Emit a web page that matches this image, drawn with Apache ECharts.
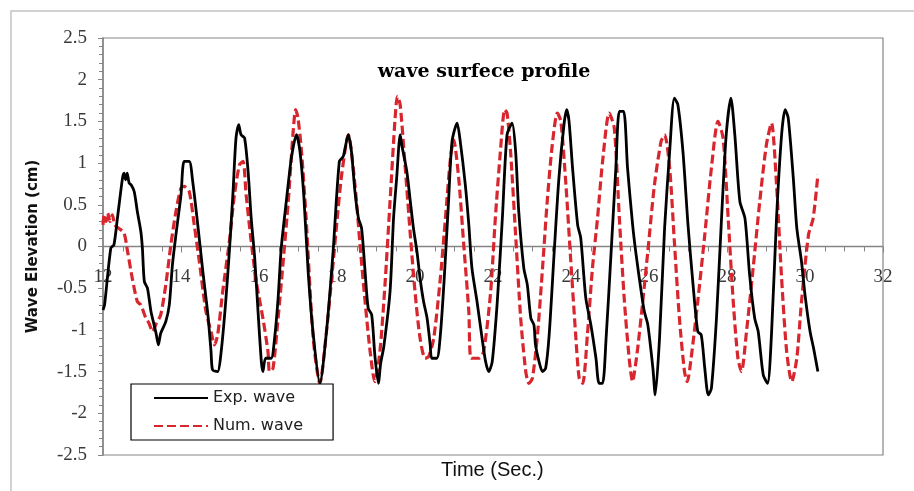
<!DOCTYPE html>
<html>
<head>
<meta charset="utf-8">
<script src="https://cdn.jsdelivr.net/npm/echarts@6/dist/echarts.min.js"></script>
<style>html,body{margin:0;padding:0;background:#fff;}#c{width:914px;height:491px;}</style>
</head>
<body>
<div id="c"></div>
<script>
// Experimental wave (time in s, elevation in cm)
var expTime = [12.0,12.04,12.2,12.28,12.37,12.5,12.54,12.58,12.62,12.67,12.72,12.8,12.88,12.97,13.01,13.06,13.14,13.23,13.31,13.36,13.42,13.48,13.61,13.7,13.78,13.87,14.0,14.08,14.21,14.3,14.43,14.56,14.69,14.77,14.81,14.94,15.03,15.14,15.24,15.33,15.41,15.48,15.54,15.63,15.72,15.8,15.89,15.97,16.06,16.1,16.17,16.31,16.4,16.49,16.57,16.7,16.83,16.96,17.05,17.15,17.26,17.39,17.56,17.73,17.9,18.06,18.16,18.29,18.37,18.46,18.55,18.63,18.72,18.8,18.89,18.97,19.06,19.12,19.2,19.36,19.45,19.53,19.62,19.66,19.79,19.88,19.96,20.05,20.13,20.22,20.31,20.39,20.43,20.56,20.65,20.75,20.86,20.95,21.08,21.16,21.29,21.38,21.46,21.59,21.72,21.81,21.89,21.98,22.11,22.24,22.36,22.49,22.58,22.66,22.79,22.88,22.97,23.05,23.09,23.18,23.27,23.35,23.44,23.57,23.69,23.82,23.89,23.95,24.04,24.17,24.25,24.38,24.51,24.64,24.72,24.81,24.9,25.02,25.15,25.24,25.35,25.45,25.58,25.67,25.8,25.88,25.97,26.1,26.16,26.27,26.4,26.53,26.65,26.74,26.87,27.0,27.13,27.25,27.34,27.43,27.52,27.6,27.73,27.86,27.98,28.1,28.2,28.33,28.46,28.58,28.71,28.8,28.93,29.04,29.14,29.27,29.4,29.49,29.57,29.7,29.79,29.91,30.0,30.13,30.22,30.33];
var expValue = [-0.76,-0.7,-0.02,0.02,0.34,0.82,0.88,0.8,0.88,0.76,0.74,0.66,0.42,0.18,-0.02,-0.42,-0.5,-0.78,-0.94,-1.04,-1.18,-1.04,-0.9,-0.7,-0.22,0.14,0.62,1.02,1.02,0.78,0.26,-0.3,-0.82,-1.26,-1.48,-1.5,-1.26,-0.7,-0.06,0.62,1.3,1.46,1.34,1.3,0.9,0.34,-0.14,-0.74,-1.38,-1.5,-1.34,-1.34,-1.1,-0.62,-0.02,0.54,1.06,1.34,1.14,0.6,-0.3,-1.05,-1.64,-1.02,-0.06,1.02,1.08,1.34,1.14,0.66,0.34,0.22,-0.3,-0.74,-0.82,-1.3,-1.64,-1.4,-1.2,-0.54,0.34,0.82,1.34,1.22,0.9,0.54,0.22,-0.06,-0.38,-0.66,-0.86,-1.18,-1.34,-1.34,-1.06,-0.38,0.54,1.26,1.48,1.26,0.74,0.26,-0.26,-0.66,-1.1,-1.38,-1.5,-1.38,-0.66,0.34,1.34,1.48,1.14,0.42,-0.26,-0.46,-0.86,-0.94,-1.18,-1.38,-1.5,-1.46,-1.06,-0.06,0.82,1.46,1.64,1.5,0.94,0.26,0.1,-0.62,-0.94,-1.34,-1.64,-1.64,-1.1,-0.14,0.94,1.62,1.62,0.94,0.26,-0.1,-0.54,-0.78,-0.94,-1.46,-1.78,-1.1,0.22,1.14,1.78,1.7,1.14,0.26,-0.46,-1.02,-1.06,-1.46,-1.78,-1.7,-0.86,0.34,1.34,1.78,1.34,0.54,0.34,-0.34,-0.86,-1.02,-1.54,-1.64,-1.06,0.34,1.34,1.64,1.54,0.82,0.22,-0.18,-0.58,-1.02,-1.22,-1.5];

// Numerical wave
var numTime = [12.0,12.03,12.08,12.12,12.18,12.24,12.3,12.4,12.54,12.63,12.75,12.88,12.97,13.1,13.18,13.27,13.37,13.48,13.61,13.74,13.87,14.0,14.08,14.21,14.34,14.47,14.64,14.77,14.86,14.94,15.07,15.24,15.37,15.5,15.59,15.67,15.8,15.93,16.1,16.23,16.27,16.36,16.49,16.62,16.75,16.87,16.94,17.0,17.09,17.2,17.39,17.56,17.73,17.9,17.99,18.12,18.29,18.46,18.59,18.72,18.85,18.97,19.1,19.23,19.36,19.49,19.55,19.62,19.75,19.88,20.0,20.13,20.26,20.35,20.48,20.65,20.78,20.91,20.99,21.12,21.25,21.38,21.44,21.63,21.76,21.94,22.06,22.19,22.3,22.36,22.45,22.58,22.71,22.84,22.92,23.01,23.14,23.27,23.39,23.52,23.65,23.74,23.87,23.99,24.12,24.21,24.3,24.42,24.55,24.68,24.81,24.98,25.11,25.24,25.37,25.5,25.58,25.63,25.71,25.84,25.97,26.14,26.31,26.4,26.53,26.65,26.78,26.91,26.98,27.08,27.25,27.43,27.6,27.77,27.9,28.03,28.16,28.28,28.37,28.5,28.67,28.84,29.01,29.14,29.27,29.4,29.53,29.66,29.79,29.91,30.09,30.21,30.33];
var numValue = [0.26,0.38,0.3,0.4,0.3,0.38,0.26,0.22,0.16,-0.06,-0.38,-0.66,-0.7,-0.86,-0.92,-1.02,-0.92,-0.82,-0.46,0.02,0.42,0.7,0.72,0.66,0.26,-0.18,-0.78,-1.02,-1.18,-1.06,-0.54,0.06,0.62,0.98,1.02,0.62,0.06,-0.42,-0.86,-1.26,-1.5,-1.46,-0.86,-0.18,0.54,1.34,1.64,1.54,1.14,0.4,-1.1,-1.64,-1.02,-0.2,0.26,0.86,1.34,0.74,0.02,-0.66,-1.26,-1.62,-1.26,-0.46,0.54,1.54,1.8,1.7,0.94,0.14,-0.54,-1.1,-1.34,-1.32,-1.1,-0.38,0.34,1.06,1.28,0.82,0.02,-0.78,-1.34,-1.34,-1.26,-0.54,0.34,1.14,1.64,1.6,1.14,0.14,-0.86,-1.5,-1.64,-1.58,-1.06,-0.26,0.54,1.22,1.6,1.5,0.74,-0.14,-1.06,-1.58,-1.64,-1.06,-0.26,0.34,1.02,1.6,1.42,0.34,-0.66,-1.38,-1.62,-1.5,-1.22,-0.66,-0.06,0.74,1.26,1.34,0.94,0.06,-0.86,-1.5,-1.62,-1.34,-0.66,0.14,0.94,1.5,1.3,0.34,-0.66,-1.34,-1.5,-1.02,-0.26,0.54,1.22,1.48,0.74,-0.38,-1.26,-1.62,-1.34,-0.66,0.14,0.34,0.86];

var seriesNames = ['Exp. wave', 'Num. wave'];
var chartTitle = 'wave surfece profile';
var xAxisTitle = 'Time (Sec.)';
var yAxisTitle = 'Wave Elevation (cm)';
var xMin = 12, xMax = 32, xStep = 2, xMinorStep = 0.5;

function pairs(t, v) { return t.map(function (x, i) { return [x, v[i]]; }); }

var GRID_TOP = 38, GRID_BOTTOM = 36, H = 491;
var plotH = H - GRID_TOP - GRID_BOTTOM;
// move the x axis labels from the bottom edge up to y = 0 (middle of -2.5..2.5)
var zeroOffset = -plotH / 2;
var AXIS_GRAY = '#858585';

var chart = echarts.init(document.getElementById('c'), null, {renderer: 'canvas'});
chart.setOption({
  animation: false,
  backgroundColor: '#fff',
  title: {
    text: chartTitle,
    left: 479, top: 58, textAlign: 'center',
    textStyle: {fontFamily: 'DejaVu Serif', fontWeight: 'bold', fontSize: 19, color: '#000'}
  },
  grid: {left: 103, right: 31, top: GRID_TOP, bottom: GRID_BOTTOM, show: true, borderColor: AXIS_GRAY, borderWidth: 1.2, backgroundColor: 'transparent'},
  legend: {
    orient: 'vertical', left: 131, top: 384,
    itemWidth: 54, itemHeight: 14, itemGap: 12,
    padding: [6, 30, 6, 22],
    borderColor: '#000', borderWidth: 1.2, backgroundColor: '#fff',
    itemStyle: {opacity: 0},
    textStyle: {fontFamily: 'DejaVu Sans', fontSize: 16, color: '#222', lineHeight: 16},
    data: seriesNames
  },
  xAxis: {
    type: 'value', min: xMin, max: xMax, interval: xStep,
    offset: zeroOffset,
    axisLine: {show: false, onZero: false},
    axisTick: {show: false},
    minorTick: {show: false},
    splitLine: {show: false},
    axisLabel: {margin: 21, fontFamily: 'Liberation Serif', fontSize: 19, color: '#3a3a3a'}
  },
  yAxis: {
    type: 'value', min: -2.5, max: 2.5, interval: 0.5,
    name: yAxisTitle, nameLocation: 'middle', nameGap: 62, nameRotate: 90,
    nameTextStyle: {fontFamily: 'DejaVu Sans', fontWeight: 'bold', fontSize: 15, color: '#111'},
    axisLine: {show: true, onZero: false, lineStyle: {color: AXIS_GRAY, width: 1.5}},
    axisTick: {show: true, length: 5, lineStyle: {color: AXIS_GRAY}},
    minorTick: {show: true, splitNumber: 5, length: 4, lineStyle: {color: AXIS_GRAY}},
    splitLine: {show: false},
    axisLabel: {margin: 16, fontFamily: 'Liberation Serif', fontSize: 19, color: '#3a3a3a'}
  },
  graphic: [
    {id: 'frame', type: 'rect', silent: true, z: -10, shape: {x: 11, y: 11, width: 1000, height: 1000}, style: {fill: 'none', stroke: '#c4c4c4', lineWidth: 1.5}},
    {id: 'xname', type: 'text', left: 441, top: 460, style: {text: xAxisTitle, fontFamily: 'Liberation Sans', fontSize: 20, fill: '#111'}}
  ],
  series: [
    {
      name: seriesNames[0], type: 'line', data: pairs(expTime, expValue),
      showSymbol: false, symbol: 'none', smooth: 0.25, z: 3,
      lineStyle: {color: '#000', width: 2.8},
      itemStyle: {color: '#000'}
    },
    {
      name: seriesNames[1], type: 'line', data: pairs(numTime, numValue),
      showSymbol: false, symbol: 'none', smooth: 0.25, z: 2,
      lineStyle: {color: '#d7262e', width: 3.2, type: [9, 4]},
      itemStyle: {color: '#d7262e'}
    }
  ]
});

// Horizontal time axis drawn at elevation 0, positioned through the chart's own scales
var y0 = chart.convertToPixel({yAxisIndex: 0}, 0);
var xa = chart.convertToPixel({xAxisIndex: 0}, xMin);
var xb = chart.convertToPixel({xAxisIndex: 0}, xMax);
var axisEls = [{
  id: 'zeroAxis', type: 'line', silent: true, z: 1,
  shape: {x1: xa, y1: y0, x2: xb, y2: y0},
  style: {stroke: AXIS_GRAY, lineWidth: 1.5}
}];
var nTicks = Math.round((xMax - xMin) / xMinorStep);
for (var i = 0; i <= nTicks; i++) {
  var tv = xMin + i * xMinorStep;
  var px = Math.round(chart.convertToPixel({xAxisIndex: 0}, tv)) + 0.5;
  var major = (i % Math.round(xStep / xMinorStep)) === 0;
  axisEls.push({
    id: 'xt' + i, type: 'line', silent: true, z: 1,
    shape: {x1: px, y1: y0, x2: px, y2: y0 + (major ? 6 : 5)},
    style: {stroke: AXIS_GRAY, lineWidth: 1}
  });
}
chart.setOption({graphic: axisEls});
</script>
</body>
</html>
